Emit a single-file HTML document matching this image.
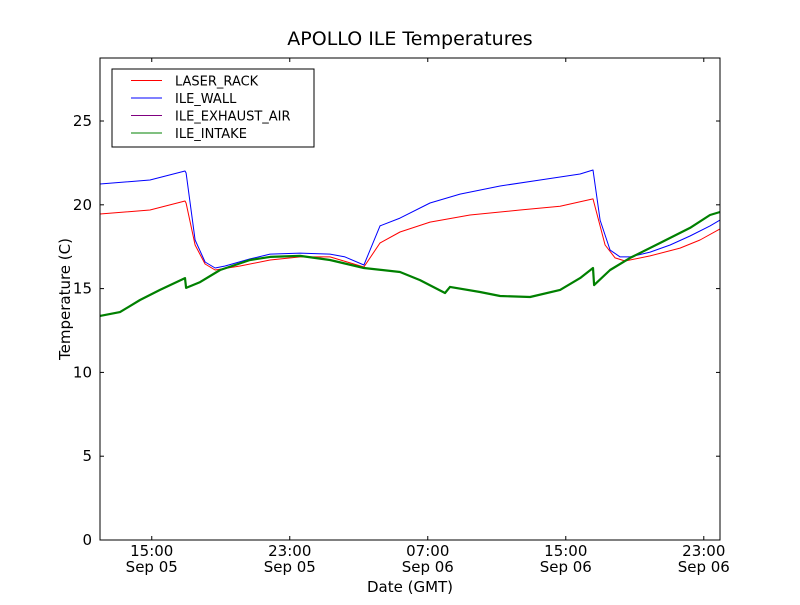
<!DOCTYPE html>
<html><head><meta charset="utf-8"><style>
body{margin:0;background:#fff}
svg text{font-family:"DejaVu Sans","Liberation Sans",sans-serif;fill:#000}
</style></head><body>
<svg id="chart" width="800" height="600" xmlns="http://www.w3.org/2000/svg">
<rect width="800" height="600" fill="#fff"/>
<text x="410" y="45" font-size="19" text-anchor="middle">APOLLO ILE Temperatures</text>
<g id="plot"></g>
<text x="410" y="592" font-size="15" text-anchor="middle">Date (GMT)</text>
<text transform="translate(70,299) rotate(-90)" font-size="15" text-anchor="middle">Temperature (C)</text>
</svg>
<script>
const yTicks=[0,5,10,15,20,25];
const xTicks=[15,23,31,39,47];
const xTickLine1=["15:00","23:00","07:00","15:00","23:00"];
const xTickLine2=["Sep 05","Sep 05","Sep 06","Sep 06","Sep 06"];
const seriesNames=["LASER_RACK","ILE_WALL","ILE_EXHAUST_AIR","ILE_INTAKE"];
const seriesColors=["#ff0000","#0000ff","#800080","#008000"];
const wallT=[12.0,14.9,16.93,16.99,17.51,18.09,18.67,19.25,20.7,21.86,23.6,25.33,26.2,27.3,28.23,29.39,31.13,32.87,35.19,37.51,39.83,40.58,40.99,41.57,42.15,42.73,43.89,45.05,46.2,47.36,47.94];
const wallV=[21.24,21.48,22.02,21.9,17.9,16.59,16.23,16.35,16.77,17.06,17.12,17.06,16.89,16.41,18.74,19.21,20.11,20.64,21.12,21.48,21.84,22.08,19.09,17.3,16.89,16.89,17.18,17.6,18.14,18.74,19.09];
const rackT=[12.0,14.9,16.93,16.99,17.51,18.09,18.67,20.12,21.86,23.6,25.33,27.3,28.23,29.39,31.13,33.45,36.35,38.67,40.58,41.28,41.86,42.44,43.89,45.62,46.78,47.94];
const rackV=[19.45,19.69,20.23,20.1,17.6,16.47,16.11,16.35,16.71,16.89,16.89,16.29,17.72,18.38,18.97,19.39,19.69,19.92,20.35,17.6,16.83,16.65,16.95,17.42,17.9,18.56];
const intakeT=[12.0,13.16,14.32,15.48,16.93,16.99,17.8,18.96,20.7,21.86,23.6,25.33,27.3,29.39,30.55,32.0,32.29,34.03,35.19,36.93,38.67,39.83,40.58,40.64,41.57,42.73,44.46,46.2,47.36,47.94];
const intakeV=[13.37,13.6,14.32,14.92,15.63,15.04,15.39,16.11,16.71,16.89,16.95,16.71,16.23,15.99,15.51,14.74,15.1,14.8,14.56,14.5,14.92,15.63,16.23,15.21,16.11,16.83,17.72,18.62,19.39,19.57];
const exhaustT=intakeT, exhaustV=intakeV;

const X0=100,X1=720,Y0=58,Y1=540,TMIN=12.0,TMAX=47.94,VMAX=28.76;
const sx=t=>X0+(t-TMIN)/(TMAX-TMIN)*(X1-X0);
const sy=v=>Y1-v/VMAX*(Y1-Y0);
const NS="http://www.w3.org/2000/svg";
const plot=document.getElementById('plot');
function mk(tag,attrs){const e=document.createElementNS(NS,tag);for(const k in attrs)e.setAttribute(k,attrs[k]);plot.appendChild(e);return e;}
function line(ts,vs,color,w,name){
  const p=mk('polyline',{points:ts.map((t,i)=>sx(t).toFixed(1)+','+sy(vs[i]).toFixed(1)).join(' '),fill:'none',stroke:color,'stroke-width':w,'stroke-linejoin':'round'});
  
  
}
line(rackT,rackV,seriesColors[0],1,'laser-rack-line');
line(wallT,wallV,seriesColors[1],1,'ile-wall-line');
line(exhaustT,exhaustV,seriesColors[2],1,'ile-exhaust-air-line');
line(intakeT,intakeV,seriesColors[3],2.2,'ile-intake-line');
const frame=mk('rect',{x:X0,y:Y0,width:X1-X0,height:Y1-Y0,fill:'none',stroke:'#000','stroke-width':1});


yTicks.forEach(v=>{
  const y=sy(v);
  mk('line',{x1:X0,x2:X0+4,y1:y,y2:y,stroke:'#000'});
  mk('line',{x1:X1-4,x2:X1,y1:y,y2:y,stroke:'#000'});
  const t=mk('text',{x:X0-8,y:y+5,'font-size':15,'text-anchor':'end'});t.textContent=v;
  
  
});
xTicks.forEach((h,i)=>{
  const x=sx(h);
  mk('line',{x1:x,x2:x,y1:Y1,y2:Y1-4,stroke:'#000'});
  mk('line',{x1:x,x2:x,y1:Y0,y2:Y0+4,stroke:'#000'});
  const a=mk('text',{x:x,y:556,'font-size':15,'text-anchor':'middle'});a.textContent=xTickLine1[i];
  
  
  const b=mk('text',{x:x,y:572,'font-size':15,'text-anchor':'middle'});b.textContent=xTickLine2[i];
  
  
});
const lg=mk('rect',{x:112,y:69,width:202,height:78,fill:'#fff',stroke:'#000','stroke-width':1});


seriesNames.forEach((n,i)=>{
  const y=80.5+i*17.5;
  mk('line',{x1:131,x2:162,y1:y,y2:y,stroke:seriesColors[i],'stroke-width':1});
  const t=mk('text',{x:175,y:y+5,'font-size':13});t.textContent=n;
  
  
});
</script>
</body></html>
